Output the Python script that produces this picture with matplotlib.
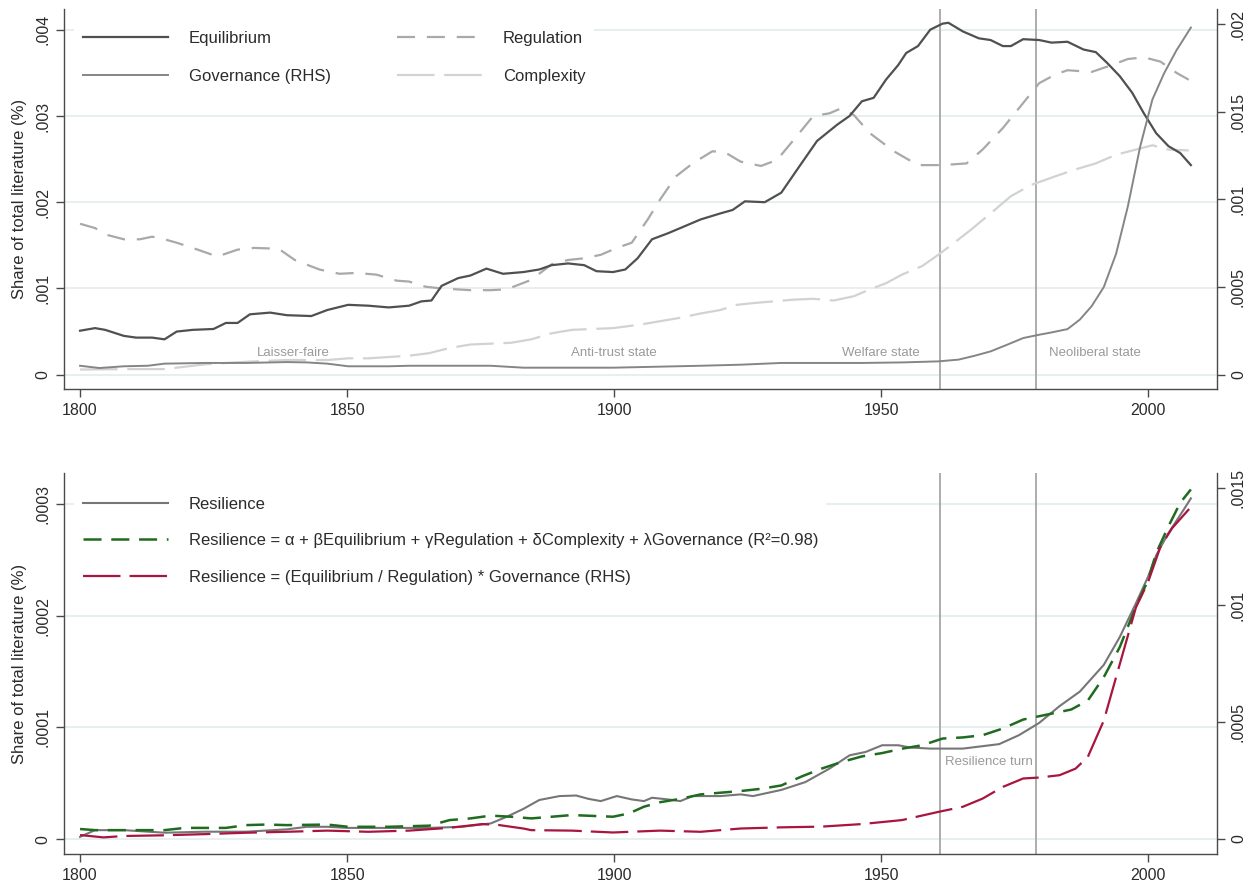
import matplotlib
matplotlib.use('Agg')
import matplotlib.pyplot as plt
from matplotlib.lines import Line2D

plt.rcParams['font.family'] = ['Liberation Sans', 'DejaVu Sans']
plt.rcParams['lines.scale_dashes'] = False

# ---- top panel data (left axis: share %, right axis: governance) ----
eq_years = [1800, 1802.8, 1804.7, 1808.2, 1810.5, 1813.5, 1815.8, 1818.1, 1821.1, 1825, 1827.3,
            1829.5, 1831.8, 1835.6, 1838.7, 1843.3, 1846.3, 1850.2, 1854, 1857.8, 1861.6, 1863.9,
            1865.8, 1867.7, 1870.8, 1873.1, 1876.1, 1879.2, 1883, 1886, 1888.3, 1891.4, 1894.4,
            1896.7, 1899.8, 1902.1, 1904.4, 1907.1, 1910.1, 1912.4, 1916.2, 1919.9, 1922.2,
            1924.5, 1928.2, 1931.3, 1934.3, 1938, 1941.8, 1944.1, 1946.4, 1948.6, 1950.9, 1953.2,
            1954.7, 1956.9, 1959.2, 1961.5, 1962.6, 1965.3, 1968.3, 1970.5, 1972.8, 1974.3,
            1976.6, 1979.6, 1981.9, 1984.9, 1987.9, 1990.2, 1992.4, 1994.7, 1997, 1999.2, 2001.5,
            2003.8, 2006, 2008]
eq_vals = [0.51, 0.54, 0.52, 0.45, 0.43, 0.43, 0.41, 0.50, 0.52, 0.53, 0.60,
           0.60, 0.70, 0.72, 0.69, 0.68, 0.75, 0.81, 0.80, 0.78, 0.80, 0.85,
           0.86, 1.03, 1.12, 1.15, 1.23, 1.17, 1.19, 1.22, 1.27, 1.29, 1.27,
           1.20, 1.19, 1.22, 1.35, 1.57, 1.64, 1.70, 1.80, 1.87, 1.91,
           2.01, 2.00, 2.11, 2.38, 2.71, 2.90, 3.00, 3.17, 3.21, 3.42, 3.59,
           3.73, 3.81, 4.00, 4.07, 4.08, 3.98, 3.90, 3.88, 3.81, 3.81,
           3.89, 3.88, 3.85, 3.86, 3.77, 3.74, 3.61, 3.46, 3.27, 3.03, 2.80,
           2.65, 2.57, 2.43]

reg_years = [1800, 1802.8, 1805.1, 1808.2, 1811.2, 1813.5, 1815.8, 1818.1, 1821.1, 1825.7, 1829.5,
             1832.6, 1837.2, 1840.2, 1844.8, 1848.6, 1851.7, 1855.5, 1859.3, 1861.6, 1864.7,
             1867.7, 1873.1, 1876.9, 1879.9, 1884.5, 1888.3, 1891.4, 1894.4, 1897.5, 1900.5,
             1903.3, 1906.3, 1908.6, 1911.6, 1914.7, 1918.4, 1920.7, 1923.7, 1927.5, 1930.5,
             1933.6, 1937.3, 1940.3, 1942.6, 1944.9, 1947.9, 1952.4, 1956.9, 1961.5, 1966, 1969,
             1972.8, 1976.6, 1979.6, 1982.6, 1984.9, 1989.4, 1993.2, 1996.2, 1999.2, 2002.3,
             2005.3, 2007.6]
reg_vals = [1.75, 1.70, 1.62, 1.57, 1.57, 1.60, 1.57, 1.53, 1.47, 1.37, 1.45,
            1.47, 1.46, 1.33, 1.22, 1.17, 1.18, 1.16, 1.09, 1.08, 1.02,
            1.00, 0.98, 0.98, 0.99, 1.10, 1.28, 1.33, 1.35, 1.39, 1.47,
            1.53, 1.80, 2.03, 2.30, 2.45, 2.59, 2.58, 2.47, 2.42, 2.49,
            2.72, 3.00, 3.03, 3.09, 3.01, 2.80, 2.59, 2.43, 2.43, 2.45, 2.61,
            2.86, 3.15, 3.38, 3.48, 3.53, 3.51, 3.59, 3.66, 3.68, 3.63,
            3.50, 3.42]

cx_years = [1800, 1808.2, 1815.8, 1823.4, 1831.1, 1838.7, 1846.3, 1850.2, 1854, 1861.6, 1865.4,
            1869.2, 1873.1, 1880.7, 1884.5, 1888.3, 1892.1, 1895.9, 1899.8, 1904.8, 1908.6,
            1912.4, 1916.2, 1919.9, 1923, 1926, 1929.8, 1933.6, 1937.3, 1941.1, 1944.9, 1947.9,
            1950.9, 1953.9, 1957.7, 1960.7, 1963.7, 1966.8, 1970.5, 1974.3, 1978.1, 1982.6,
            1986.4, 1990.2, 1994, 1997.7, 2000.8, 2003.8, 2007.6]
cx_vals = [0.06, 0.065, 0.065, 0.12, 0.15, 0.17, 0.17, 0.19, 0.19, 0.22, 0.25,
           0.31, 0.35, 0.37, 0.41, 0.48, 0.52, 0.53, 0.54, 0.58, 0.62,
           0.66, 0.71, 0.75, 0.81, 0.83, 0.85, 0.87, 0.88, 0.86, 0.91, 0.99,
           1.06, 1.16, 1.26, 1.39, 1.53, 1.68, 1.87, 2.07, 2.20, 2.30,
           2.38, 2.45, 2.55, 2.61, 2.66, 2.61, 2.60]

gov_years = [1800, 1803.6, 1808.2, 1812.7, 1815.8, 1823.4, 1831.1, 1838.7, 1842.5, 1846.3, 1850.2,
             1857.8, 1861.6, 1876.9, 1883, 1899.8, 1916.2, 1923.7, 1931.3, 1938.8, 1946.4,
             1953.9, 1960.7, 1964.5, 1967.5, 1970.5, 1973.6, 1976.6, 1979.6, 1981.9, 1984.9,
             1987.2, 1989.4, 1991.7, 1994, 1996.2, 1998.5, 2000.8, 2003, 2005.3, 2008]
gov_vals = [0.051, 0.038, 0.048, 0.051, 0.063, 0.067, 0.067, 0.072, 0.070, 0.063, 0.048,
            0.048, 0.051, 0.051, 0.040, 0.040, 0.051, 0.057, 0.067, 0.067, 0.067,
            0.070, 0.076, 0.086, 0.108, 0.133, 0.171, 0.209, 0.228, 0.241, 0.260,
            0.314, 0.39, 0.50, 0.69, 0.96, 1.30, 1.57, 1.72, 1.85, 1.98]

# ---- bottom panel data ----
res_years = [1800, 1802.8, 1808.2, 1815.8, 1823.4, 1831.1, 1838.7, 1842.5, 1846.3, 1850.2, 1857.8,
             1865.4, 1871.5, 1876.9, 1879.9, 1883, 1886, 1889.8, 1892.9, 1895.2, 1897.5, 1900.5,
             1903.3, 1905.6, 1907.1, 1910.1, 1912.4, 1914.7, 1919.9, 1923.7, 1926, 1931.3,
             1935.8, 1940.3, 1944.1, 1947.1, 1950.2, 1953.2, 1955.4, 1959.2, 1965.3, 1972.1,
             1975.8, 1979.6, 1983.4, 1987.2, 1991.7, 1994.7, 1997.7, 2000, 2001.5, 2003.8, 2006,
             2008]
res_vals = [0.02, 0.08, 0.08, 0.057, 0.066, 0.066, 0.087, 0.11, 0.11, 0.10, 0.10,
            0.10, 0.11, 0.14, 0.20, 0.27, 0.35, 0.385, 0.39, 0.36, 0.34, 0.385,
            0.355, 0.34, 0.37, 0.355, 0.34, 0.385, 0.385, 0.40, 0.385, 0.44,
            0.51, 0.63, 0.75, 0.78, 0.84, 0.84, 0.82, 0.81, 0.81, 0.85,
            0.93, 1.04, 1.19, 1.32, 1.56, 1.81, 2.11, 2.35, 2.54, 2.74, 2.90,
            3.05]

fit_years = [1800, 1802.8, 1808.2, 1815.8, 1819.6, 1823.4, 1827.3, 1831.1, 1834.9, 1838.7, 1846.3,
             1850.2, 1857.8, 1865.4, 1869.2, 1873.1, 1876.9, 1880.7, 1884.5, 1892.1, 1899.8,
             1902.8, 1905.6, 1908.6, 1912.4, 1916.2, 1919.9, 1923.7, 1927.5, 1931.3, 1935.1,
             1938.8, 1942.6, 1946.4, 1950.2, 1954, 1957.7, 1961.5, 1965.3, 1969, 1972.8, 1976.6,
             1979.6, 1982.6, 1985.6, 1988.7, 1991.7, 1994.7, 1997.7, 2000, 2001.5, 2003.8, 2006,
             2008]
fit_vals = [0.09, 0.08, 0.08, 0.08, 0.10, 0.10, 0.10, 0.125, 0.13, 0.125, 0.13,
            0.11, 0.11, 0.12, 0.17, 0.185, 0.21, 0.20, 0.185, 0.215, 0.20,
            0.23, 0.29, 0.33, 0.36, 0.40, 0.415, 0.43, 0.45, 0.48, 0.56,
            0.63, 0.69, 0.74, 0.77, 0.81, 0.84, 0.90, 0.91, 0.93, 0.99, 1.07,
            1.10, 1.13, 1.16, 1.24, 1.45, 1.72, 2.08, 2.32, 2.56, 2.80, 3.01,
            3.13]

mult_years = [1800, 1804.4, 1808.2, 1815.8, 1823.4, 1831.1, 1838.7, 1846.3, 1854, 1861.6, 1869.2,
              1875.3, 1878.4, 1883, 1884.5, 1892.1, 1899.8, 1908.6, 1916.2, 1923.7, 1931.3,
              1938.8, 1946.4, 1953.9, 1960.7, 1965.3, 1969, 1972.8, 1976.6, 1979.6, 1983.4,
              1986.4, 1988.7, 1991.7, 1994.7, 1997.7, 2000, 2002.3, 2004.5, 2008]
mult_vals = [0.017, 0.007, 0.013, 0.016, 0.021, 0.027, 0.031, 0.036, 0.031, 0.036, 0.048,
             0.064, 0.060, 0.045, 0.038, 0.036, 0.028, 0.036, 0.031, 0.045, 0.050,
             0.053, 0.064, 0.081, 0.116, 0.138, 0.173, 0.223, 0.259, 0.263, 0.273,
             0.301, 0.351, 0.507, 0.749, 0.99, 1.10, 1.25, 1.33, 1.42]

# scale the readings back to shares
eq_vals = [v / 1000 for v in eq_vals]
reg_vals = [v / 1000 for v in reg_vals]
cx_vals = [v / 1000 for v in cx_vals]
gov_vals = [v / 1000 for v in gov_vals]
res_vals = [v / 10000 for v in res_vals]
fit_vals = [v / 10000 for v in fit_vals]
mult_vals = [v / 1000 for v in mult_vals]

periods = ['Laisser-faire', 'Anti-trust state', 'Welfare state', 'Neoliberal state']
period_x = [1840, 1900, 1950, 1990]
turn_years = [1961, 1979]

grid_col = '#e6eef0'
spine_col = '#4a4a4a'
txt_col = '#2b2b2b'


def style(ax, ax2, lticks, llabels, rticks, rlabels):
    ax.set_xlim(1797.0, 2012.9)
    ax.set_xticks([1800, 1850, 1900, 1950, 2000])
    ax.set_yticks(lticks)
    ax.set_yticklabels(llabels, rotation=90, va='center')
    ax2.set_yticks(rticks)
    ax2.set_yticklabels(rlabels, rotation=90, va='center')
    for a in (ax, ax2):
        a.spines['top'].set_visible(False)
        for s in ('left', 'right', 'bottom'):
            a.spines[s].set_color(spine_col)
            a.spines[s].set_linewidth(1.0)
        a.tick_params(direction='out', length=6, width=1, color=spine_col,
                      labelsize=11.5, labelcolor=txt_col, pad=4)
    ax2.spines['left'].set_visible(False)
    ax.spines['right'].set_visible(False)
    ax2.spines['bottom'].set_visible(False)
    for t in lticks:
        ax.axhline(t, color=grid_col, lw=1.3, zorder=0)
    ax.set_ylabel('Share of total literature (%)', fontsize=12, color=txt_col, labelpad=6)
    for yr in turn_years:
        ax.axvline(yr, color='#a0a0a0', lw=1.2, zorder=1)


def legend_box(ax, handles, labels, y, **kw):
    leg = ax.legend(handles, labels, loc='upper left', bbox_to_anchor=(0.009, y),
                    borderaxespad=0, fontsize=12, handlelength=5.1, handletextpad=1.25,
                    borderpad=0.5, frameon=True, fancybox=False, facecolor='white',
                    edgecolor='none', framealpha=1, **kw)
    for t in leg.get_texts():
        t.set_color(txt_col)
    return leg


fig = plt.figure(figsize=(12.53, 8.9), dpi=100)

# ---------------- top panel ----------------
ax = fig.add_axes([0.0511, 0.5629, 0.9202, 0.4270])
ax2 = ax.twinx()
ax.set_ylim(-0.000166, 0.00424)
ax2.set_ylim(-0.0000817, 0.002086)
style(ax, ax2, [0, 0.001, 0.002, 0.003, 0.004], ['0', '.001', '.002', '.003', '.004'],
      [0, 0.0005, 0.001, 0.0015, 0.002], ['0', '.0005', '.001', '.0015', '.002'])

ax.plot(eq_years, eq_vals, color='#505050', lw=1.6, zorder=4)
ax.plot(reg_years, reg_vals, color='#a9a9a9', lw=1.6, ls=(0, (13, 8.5)), zorder=3)
ax.plot(cx_years, cx_vals, color='#d2d2d2', lw=1.6, ls=(0, (27, 7)), zorder=3)
ax2.plot(gov_years, gov_vals, color='#858585', lw=1.4, zorder=4)

for lab, x in zip(periods, period_x):
    ax.text(x, 0.00025, lab, ha='center', va='center', fontsize=9.5, color='#9a9a9a', zorder=5)

handles = [Line2D([], [], color='#505050', lw=1.6),
           Line2D([], [], color='#858585', lw=1.4),
           Line2D([], [], color='#a9a9a9', lw=1.6, ls=(0, (13, 8.5))),
           Line2D([], [], color='#d2d2d2', lw=1.6, ls=(0, (27, 7)))]
legend_box(ax2, handles, ['Equilibrium', 'Governance (RHS)', 'Regulation', 'Complexity'],
           0.965, ncol=2, columnspacing=4.0, labelspacing=1.42)

# ---------------- bottom panel ----------------
bx = fig.add_axes([0.0511, 0.0404, 0.9202, 0.4281])
bx2 = bx.twinx()
bx.set_ylim(-0.0000134, 0.0003277)
bx2.set_ylim(-0.0000642, 0.0015655)
style(bx, bx2, [0, 0.0001, 0.0002, 0.0003], ['0', '.0001', '.0002', '.0003'],
      [0, 0.0005, 0.001, 0.0015], ['0', '.0005', '.001', '.0015'])

bx.plot(res_years, res_vals, color='#767676', lw=1.5, zorder=3)
bx.plot(fit_years, fit_vals, color='#1f6b1f', lw=1.8, ls=(0, (13, 7)), zorder=4)
bx2.plot(mult_years, mult_vals, color='#a8153f', lw=1.6, ls=(0, (27, 6.5)), zorder=4)
bx.text(1970.1, 0.0000687, 'Resilience turn', ha='center', va='center', fontsize=9.5,
        color='#9a9a9a', zorder=5)

bhandles = [Line2D([], [], color='#767676', lw=1.5),
            Line2D([], [], color='#1f6b1f', lw=1.8, ls=(0, (13, 7))),
            Line2D([], [], color='#a8153f', lw=1.6, ls=(0, (27, 6.5)))]
blabels = ['Resilience',
           'Resilience = \u03b1 + \u03b2Equilibrium + \u03b3Regulation + \u03b4Complexity + '
           '\u03bbGovernance (R\u00b2=0.98)',
           'Resilience = (Equilibrium / Regulation) * Governance (RHS)']
legend_box(bx2, bhandles, blabels, 0.96, labelspacing=1.3)

fig.savefig('out.png', dpi=100)
